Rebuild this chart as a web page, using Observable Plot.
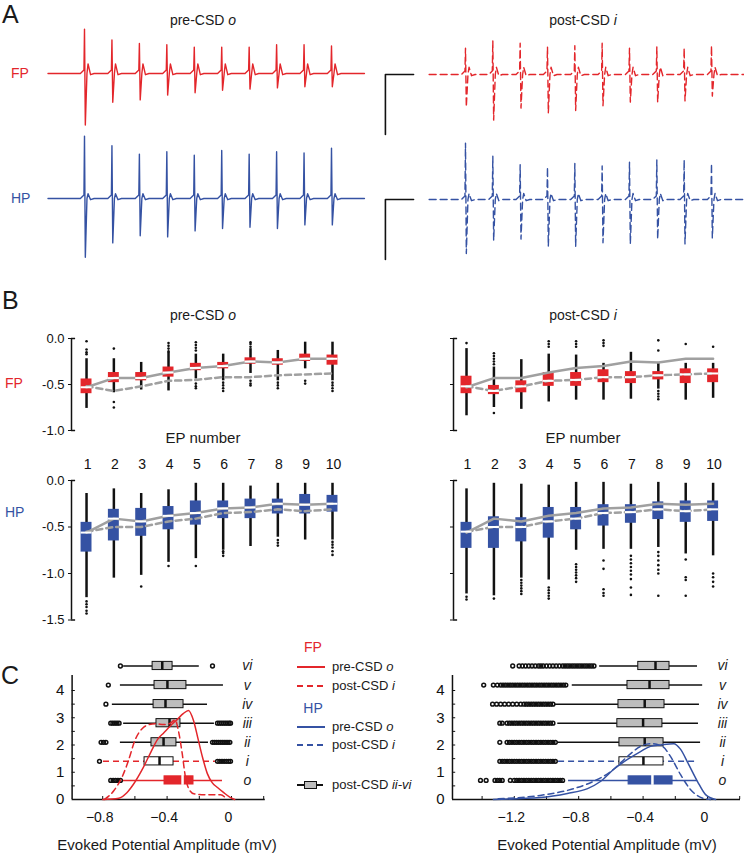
<!DOCTYPE html>
<html><head><meta charset="utf-8">
<script src="https://cdn.jsdelivr.net/npm/d3@7"></script>
<script src="https://cdn.jsdelivr.net/npm/@observablehq/plot@0.6"></script>
<style>
html,body{margin:0;padding:0;background:#fff;}
#fig{position:relative;width:744px;height:853px;overflow:hidden;font-family:"Liberation Sans",Arial,Helvetica,sans-serif;color:#1a1a1a;}
.t{position:absolute;white-space:nowrap;line-height:1.15;}
.lg{position:absolute;}
</style></head><body><div id="fig"></div>
<script>
const RED = "#e3262b", BLUE = "#3552a3", GRAY = "#a0a0a0", BOXGRAY = "#bdbdbd";

// ---------- Panel A: evoked potential traces (mV), one spike per stimulus ----------
const stimTimes = [1, 2, 3, 4, 5, 6, 7, 8, 9, 10];
const preFpUp   = [0.37, 0.28, 0.25, 0.24, 0.22, 0.22, 0.22, 0.24, 0.24, 0.23];
const preFpDown = [-0.43, -0.24, -0.22, -0.18, -0.16, -0.14, -0.13, -0.12, -0.11, -0.11];
const preHpUp   = [0.52, 0.44, 0.37, 0.39, 0.36, 0.40, 0.37, 0.39, 0.38, 0.42];
const preHpDown = [-0.49, -0.37, -0.31, -0.32, -0.27, -0.25, -0.24, -0.25, -0.22, -0.22];
const postFpUp   = [0.22, 0.28, 0.26, 0.23, 0.24, 0.26, 0.22, 0.23, 0.22, 0.24];
const postFpDown = [-0.27, -0.38, -0.28, -0.32, -0.30, -0.26, -0.23, -0.23, -0.22, -0.18];
const postHpUp   = [0.47, 0.36, 0.29, 0.27, 0.30, 0.28, 0.31, 0.33, 0.33, 0.30];
const postHpDown = [-0.45, -0.34, -0.33, -0.39, -0.39, -0.36, -0.37, -0.33, -0.37, -0.32];
const afterBump = [0.08, 0.04, 0.06, 0.05]; // preFP, preHP, postFP, postHP
const spikeShape = [[-0.15, 0], [-0.02, 0.03], [0, "up"], [0.03, "down"], [0.09, 0], [0.13, "bump"], [0.22, -0.01], [0.35, 0]];
const scaleBarT = [-0.9, -1.93, -1.93];
const scaleBarV = [0, 0, -0.5];

// ---------- Panel B: EP amplitude box plots per EP number ----------
const epNumbers = [1, 2, 3, 4, 5, 6, 7, 8, 9, 10];
const fpYTicks = [0, -0.5, -1.0];
const hpYTicks = [0, -0.5, -1.0, -1.5];
const preFpMed  = [-0.53, -0.43, -0.43, -0.37, -0.32, -0.30, -0.25, -0.26, -0.22, -0.22];
const postFpMed = [-0.52, -0.57, -0.52, -0.46, -0.45, -0.42, -0.42, -0.40, -0.39, -0.38];
const preHpMed  = [-0.56, -0.41, -0.44, -0.38, -0.35, -0.30, -0.29, -0.25, -0.26, -0.25];
const postHpMed = [-0.55, -0.50, -0.50, -0.44, -0.41, -0.35, -0.34, -0.31, -0.33, -0.31];

const bFpPreQ1 = [-0.60, -0.48, -0.46, -0.42, -0.35, -0.33, -0.28, -0.29, -0.25, -0.29];
const bFpPreQ3 = [-0.44, -0.37, -0.37, -0.31, -0.27, -0.26, -0.21, -0.22, -0.17, -0.18];
const bFpPreLo = [-0.76, -0.59, -0.56, -0.57, -0.44, -0.46, -0.38, -0.46, -0.33, -0.46];
const bFpPreHi = [-0.22, -0.22, -0.26, -0.15, -0.17, -0.17, -0.11, -0.13, -0.04, -0.04];
const bFpPreOut = [[1,-0.03],[1,-0.12],[1,-0.15],[1,-0.17],[2,-0.11],[2,-0.69],[2,-0.75],[4,-0.05],[4,-0.08],[4,-0.11],[4,-0.14],[5,-0.04],[5,-0.07],[5,-0.10],[5,-0.13],[5,-0.49],[5,-0.52],[5,-0.54],[6,-0.48],[6,-0.51],[6,-0.54],[6,-0.57],[7,-0.04],[7,-0.06],[7,-0.09],[7,-0.46],[7,-0.49],[7,-0.51],[8,-0.48],[8,-0.51],[8,-0.54],[9,-0.46],[9,-0.49],[10,-0.48],[10,-0.51],[10,-0.54],[10,-0.57]];

const bFpPostQ1 = [-0.60, -0.61, -0.59, -0.52, -0.52, -0.48, -0.49, -0.45, -0.49, -0.48];
const bFpPostQ3 = [-0.41, -0.51, -0.46, -0.37, -0.37, -0.34, -0.36, -0.36, -0.33, -0.33];
const bFpPostLo = [-0.84, -0.75, -0.77, -0.69, -0.67, -0.67, -0.66, -0.55, -0.67, -0.65];
const bFpPostHi = [-0.11, -0.31, -0.23, -0.17, -0.18, -0.27, -0.15, -0.26, -0.27, -0.27];
const bFpPostOut = [[1,-0.05],[2,-0.16],[2,-0.19],[2,-0.22],[2,-0.25],[2,-0.28],[2,-0.81],[4,-0.03],[4,-0.06],[4,-0.09],[5,-0.03],[5,-0.06],[5,-0.09],[6,-0.02],[6,-0.05],[6,-0.08],[8,-0.02],[8,-0.13],[8,-0.57],[8,-0.60],[8,-0.63],[8,-0.66],[9,-0.06],[10,-0.09]];

const bHpPreQ1 = [-0.77, -0.65, -0.60, -0.53, -0.48, -0.41, -0.41, -0.36, -0.36, -0.34];
const bHpPreQ3 = [-0.45, -0.31, -0.30, -0.28, -0.22, -0.22, -0.20, -0.20, -0.15, -0.16];
const bHpPreLo = [-1.26, -1.05, -1.02, -0.88, -0.84, -0.75, -0.71, -0.61, -0.64, -0.64];
const bHpPreHi = [-0.14, -0.09, -0.14, -0.10, -0.03, -0.03, -0.06, -0.03, -0.03, -0.03];
const bHpPreOut = [[1,-1.30],[1,-1.33],[1,-1.36],[1,-1.40],[1,-1.43],[3,-1.14],[4,-0.92],[5,-0.92],[6,-0.76],[6,-0.78],[6,-0.81],[8,-0.64],[8,-0.67],[8,-0.70],[10,-0.66],[10,-0.69],[10,-0.72],[10,-0.76],[10,-0.80]];

const bHpPostQ1 = [-0.73, -0.73, -0.66, -0.62, -0.53, -0.49, -0.46, -0.42, -0.45, -0.44];
const bHpPostQ3 = [-0.45, -0.39, -0.40, -0.29, -0.29, -0.26, -0.26, -0.23, -0.22, -0.22];
const bHpPostLo = [-1.22, -1.24, -1.05, -1.07, -0.75, -0.74, -0.74, -0.72, -0.79, -0.81];
const bHpPostHi = [-0.09, -0.03, -0.04, -0.05, -0.02, -0.02, -0.04, -0.02, -0.03, -0.03];
const bHpPostOut = [[1,-1.25],[1,-1.28],[2,-1.27],[3,-1.07],[3,-1.10],[3,-1.13],[3,-1.16],[3,-1.19],[3,-1.22],[4,-1.15],[4,-1.18],[4,-1.21],[4,-1.24],[4,-1.27],[5,-0.90],[5,-0.93],[5,-0.96],[5,-0.99],[5,-1.02],[5,-1.05],[5,-1.09],[6,-0.86],[6,-0.95],[6,-1.17],[6,-1.21],[6,-1.24],[7,-0.81],[7,-0.85],[7,-0.89],[7,-0.93],[7,-0.97],[7,-1.01],[7,-1.06],[7,-1.15],[7,-1.23],[8,-0.77],[8,-0.81],[8,-0.86],[8,-0.91],[8,-0.96],[8,-1.0],[8,-1.24],[9,-0.85],[9,-1.04],[9,-1.07],[9,-1.24],[10,-1.0],[10,-1.04],[10,-1.09],[10,-1.14]];

// ---------- Panel C: amplitude distributions ----------
const cRows = ["o", "i", "ii", "iii", "iv", "v", "vi"];
const cRowLevel = [0.7, 1.4, 2.1, 2.8, 3.5, 4.2, 4.9];
const cYTicks = [0, 1, 2, 3, 4];
const cYMinor = [0.5, 1, 1.5, 2, 2.5, 3, 3.5, 4];
const cFpXTicks = [-0.8, -0.6, -0.4, -0.2, 0, 0.2];
const cFpXLabels = [-0.8, -0.4, 0];
const cHpXTicks = [-1.4, -1.2, -1.0, -0.8, -0.6, -0.4, -0.2, 0, 0.2];
const cHpXLabels = [-1.2, -0.8, -0.4, 0];

const cFpQ1  = [-0.416, -0.540, -0.497, -0.466, -0.484, -0.478, -0.490];
const cFpMed = [-0.304, -0.447, -0.422, -0.385, -0.410, -0.398, -0.430];
const cFpQ3  = [-0.236, -0.360, -0.342, -0.317, -0.298, -0.280, -0.366];
const cFpLo  = [-0.677, -0.795, -0.690, -0.670, -0.740, -0.690, -0.670];
const cFpHi  = [-0.056, -0.100, -0.143, -0.106, -0.149, -0.050, -0.200];
const fpOutO   = [-0.75, -0.735, -0.72, -0.705, -0.69];
const fpOutI   = [-0.82, -0.087, -0.073, -0.059, -0.045, -0.031, -0.017, -0.006];
const fpOutII  = [-0.81, -0.795, -0.78, -0.118, -0.106, -0.094, -0.082, -0.07, -0.058, -0.046, -0.034, -0.022, -0.01];
const fpOutIII = [-0.75, -0.737, -0.724, -0.711, -0.698, -0.087, -0.075, -0.063, -0.051, -0.039, -0.027, -0.015, -0.006];
const fpOutIV  = [-0.78];
const fpOutV   = [-0.765];
const fpOutVI  = [-0.69, -0.118];
const fpPreDx  = [-0.80, -0.70, -0.65, -0.61, -0.55, -0.50, -0.46, -0.42, -0.38, -0.335, -0.30, -0.267, -0.236, -0.21, -0.18, -0.15, -0.12, -0.087, -0.05, -0.006, 0.02];
const fpPreDy  = [0, 0.05, 0.25, 0.55, 1.15, 1.75, 2.2, 2.45, 2.7, 2.95, 3.15, 3.27, 2.9, 2.28, 1.55, 0.95, 0.62, 0.44, 0.26, 0.07, 0];
const fpPostDx = [-0.79, -0.73, -0.68, -0.64, -0.60, -0.555, -0.51, -0.47, -0.42, -0.38, -0.35, -0.33, -0.306, -0.286, -0.265, -0.234, -0.15, -0.068, -0.027];
const fpPostDy = [0, 0.33, 0.82, 1.43, 2.17, 2.6, 2.75, 2.78, 2.75, 2.8, 2.92, 2.53, 1.68, 0.82, 0.39, 0.21, 0.17, 0.17, 0];

const cHpQ1  = [-0.490, -0.547, -0.547, -0.560, -0.553, -0.497, -0.430];
const cHpMed = [-0.342, -0.398, -0.390, -0.400, -0.390, -0.360, -0.323];
const cHpQ3  = [-0.217, -0.273, -0.273, -0.280, -0.267, -0.236, -0.236];
const cHpLo  = [-0.863, -0.925, -0.930, -0.930, -0.944, -0.840, -0.670];
const cHpHi  = [-0.062, -0.056, -0.043, -0.056, -0.050, -0.030, -0.062];
const hpOutO   = [-1.41, -1.375, -1.32, -1.305, -1.29, -1.275, -1.225, -1.2, -1.185, -1.17, -1.155, -1.14, -1.125, -1.11, -1.095, -1.08, -1.065, -1.05, -1.035, -1.02, -1.005, -0.99, -0.975, -0.96, -0.945, -0.93, -0.915, -0.9];
const hpOutI   = [-1.29, -1.275, -1.26, -1.245, -1.23, -1.215, -1.2, -1.185, -1.17, -1.155, -1.14, -1.125, -1.11, -1.095, -1.08, -1.065, -1.05, -1.035, -1.02, -1.005, -0.99, -0.975, -0.96, -0.945];
const hpOutII  = [-1.29, -1.245, -1.23, -1.215, -1.2, -1.185, -1.17, -1.155, -1.14, -1.125, -1.11, -1.095, -1.08, -1.065, -1.05, -1.035, -1.02, -1.005, -0.99, -0.975, -0.96, -0.945];
const hpOutIII = [-1.29, -1.275, -1.245, -1.23, -1.215, -1.2, -1.185, -1.17, -1.155, -1.14, -1.125, -1.11, -1.095, -1.08, -1.065, -1.05, -1.035, -1.02, -1.005, -0.99, -0.975, -0.96];
const hpOutIV  = [-1.335, -1.31, -1.285, -1.26, -1.235, -1.21, -1.185, -1.16, -1.14, -1.125, -1.11, -1.095, -1.08, -1.065, -1.05, -1.035, -1.02, -1.005, -0.99, -0.975, -0.96];
const hpOutV   = [-1.39, -1.33, -1.305, -1.285, -1.27, -1.255, -1.24, -1.225, -1.21, -1.195, -1.18, -1.165, -1.15, -1.135, -1.12, -1.105, -1.09, -1.075, -1.06, -1.045, -1.03, -1.015, -1.0, -0.985, -0.97, -0.955, -0.94, -0.925, -0.91, -0.895, -0.88];
const hpOutVI  = [-1.21, -1.17, -1.15, -1.13, -1.11, -1.09, -1.07, -1.05, -1.035, -1.02, -1.0, -0.98, -0.96, -0.94, -0.92, -0.9, -0.885, -0.87, -0.855, -0.84, -0.825, -0.81, -0.795, -0.78, -0.765, -0.75, -0.735, -0.72, -0.705];
const hpPreDx  = [-1.33, -1.04, -0.87, -0.745, -0.665, -0.584, -0.497, -0.416, -0.354, -0.292, -0.21, -0.168, -0.118, -0.062, -0.012, 0.05];
const hpPreDy  = [0, 0.07, 0.22, 0.4, 0.66, 1.1, 1.47, 1.76, 1.95, 2.0, 2.05, 1.85, 1.3, 0.66, 0.18, 0];
const hpPostDx = [-1.30, -1.04, -0.83, -0.71, -0.60, -0.497, -0.416, -0.354, -0.28, -0.23, -0.168, -0.106, -0.025, 0.02];
const hpPostDy = [0.03, 0.15, 0.4, 0.66, 1.03, 1.58, 1.95, 2.05, 1.95, 1.58, 0.92, 0.37, 0.04, 0];

// ================= drawing =================
const fig = document.getElementById("fig");
const FONT = '"Liberation Sans", Arial, Helvetica, sans-serif';

function place(left, top, width, height, x, y, marks) {
  const svg = Plot.plot({
    width, height, marginTop: 0, marginRight: 0, marginBottom: 0, marginLeft: 0,
    x: {...x, range: x.range.map(v => v - left), axis: null},
    y: {...y, range: y.range.map(v => v - top), axis: null},
    style: {background: "transparent", fontFamily: FONT, fontSize: "13px", overflow: "visible", color: "#111"},
    marks: marks.filter(Boolean)
  });
  Object.assign(svg.style, {position: "absolute", left: left + "px", top: top + "px", maxWidth: "none"});
  fig.appendChild(svg);
}

function label(html, x, y, {size = 14, color = "#1a1a1a", anchor = "middle"} = {}) {
  const d = document.createElement("div");
  d.className = "t";
  d.innerHTML = html;
  const tx = anchor === "middle" ? "-50%" : anchor === "end" ? "-100%" : "0";
  Object.assign(d.style, {left: x + "px", top: y + "px", fontSize: size + "px", color, transform: `translate(${tx},-50%)`});
  fig.appendChild(d);
}

// ---- Panel A ----
function tracePts(up, down, bump) {
  const pts = [{t: -0.33, v: 0}];
  stimTimes.forEach((t, i) => {
    spikeShape.forEach(([dt, k]) => pts.push({t: t + dt, v: k === "up" ? up[i] : k === "down" ? down[i] : k === "bump" ? bump : k}));
  });
  pts.push({t: 11.2, v: 0});
  return pts;
}
function tracePanel(left, top, width, height, xr, base, up, down, bump, color, dashed, bar) {
  place(left, top, width, height,
    {domain: [1, 10], range: xr},
    {domain: [0, -0.5], range: [base, base + 60]},
    [
      dashed
        ? Plot.line(tracePts(up, down, bump), {x: "t", y: "v", stroke: color, strokeWidth: 1.4, strokeDasharray: "7,4"})
        : Plot.line(tracePts(up, down, bump), {x: "t", y: "v", stroke: color, strokeWidth: 1.4}),
      bar && Plot.line(scaleBarT.map((t, i) => ({t, v: scaleBarV[i]})), {x: "t", y: "v", stroke: "#111", strokeWidth: 1.6})
    ]);
}
tracePanel(40, 15, 335, 125, [84, 331], 73, preFpUp, preFpDown, afterBump[0], RED, false, false);
tracePanel(40, 132, 335, 133, [84, 331], 198, preHpUp, preHpDown, afterBump[1], BLUE, false, false);
tracePanel(378, 15, 366, 125, [465, 711], 74, postFpUp, postFpDown, afterBump[2], RED, true, true);
tracePanel(378, 132, 366, 133, [465, 711], 199, postHpUp, postHpDown, afterBump[3], BLUE, true, true);

// ---- Panel B ----
function boxPanel({left, top, width, height, x0, xr, yDomain, yRange, ticks, showLabels, showEp, q1, med, q3, lo, hi, out, color, preLine, postLine}) {
  const boxes = epNumbers.map((ep, i) => ({ep, q1: q1[i], med: med[i], q3: q3[i], lo: lo[i], hi: hi[i]}));
  const yTop = ticks[0], yBot = ticks[ticks.length - 1];
  place(left, top, width, height,
    {domain: [x0, 10], range: xr},
    {domain: yDomain, range: yRange},
    [
      Plot.ruleX([x0], {y1: yTop, y2: yBot, stroke: "#111", strokeWidth: 1.5}),
      Plot.ruleY([yTop, yBot], {x1: x0, x2: x0 + 0.15, stroke: "#111", strokeWidth: 1.5}),
      Plot.ruleY(ticks, {x1: x0 - 0.11, x2: x0, stroke: "#111", strokeWidth: 1}),
      showLabels && Plot.text(ticks, {x: x0, y: d => d, dx: -7, textAnchor: "end", text: d => d.toFixed(1), fontSize: 13, fill: "#111"}),
      showEp && Plot.text(epNumbers, {x: d => d, frameAnchor: "top", dy: 11, dx: 1, text: d => String(d), fontSize: 14, fill: "#111"}),
      Plot.ruleX(boxes, {x: "ep", y1: "lo", y2: "hi", stroke: "#111", strokeWidth: 2.5}),
      Plot.rect(boxes, {x1: d => d.ep - 0.2, x2: d => d.ep + 0.2, y1: "q1", y2: "q3", fill: color}),
      Plot.dot(out, {x: d => d[0], y: d => d[1], r: 1.3, fill: "#111"}),
      Plot.line(epNumbers.map((ep, i) => ({ep, v: preLine[i]})), {x: "ep", y: "v", stroke: GRAY, strokeWidth: 2.5}),
      Plot.line(epNumbers.map((ep, i) => ({ep, v: postLine[i]})), {x: "ep", y: "v", stroke: GRAY, strokeWidth: 2.5, strokeDasharray: "6,4"}),
      Plot.ruleY(boxes, {y: "med", x1: d => d.ep - 0.2, x2: d => d.ep + 0.2, stroke: "white", strokeWidth: 2})
    ]);
}
const xrPre = [71, 71 + 9.55 * 27.33];
const xrPost = [453, 453 + 9.475 * 27.4];
boxPanel({left: 0, top: 328, width: 372, height: 108, x0: 0.45, xr: xrPre, yDomain: [0, -1], yRange: [338, 430], ticks: fpYTicks, showLabels: true, showEp: false,
  q1: bFpPreQ1, med: preFpMed, q3: bFpPreQ3, lo: bFpPreLo, hi: bFpPreHi, out: bFpPreOut, color: RED, preLine: preFpMed, postLine: postFpMed});
boxPanel({left: 376, top: 328, width: 368, height: 108, x0: 0.525, xr: xrPost, yDomain: [0, -1], yRange: [338, 430], ticks: fpYTicks, showLabels: false, showEp: false,
  q1: bFpPostQ1, med: postFpMed, q3: bFpPostQ3, lo: bFpPostLo, hi: bFpPostHi, out: bFpPostOut, color: RED, preLine: preFpMed, postLine: postFpMed});
boxPanel({left: 0, top: 448, width: 372, height: 180, x0: 0.45, xr: xrPre, yDomain: [0, -1.5], yRange: [480, 619.5], ticks: hpYTicks, showLabels: true, showEp: true,
  q1: bHpPreQ1, med: preHpMed, q3: bHpPreQ3, lo: bHpPreLo, hi: bHpPreHi, out: bHpPreOut, color: BLUE, preLine: preHpMed, postLine: postHpMed});
boxPanel({left: 376, top: 448, width: 368, height: 180, x0: 0.525, xr: xrPost, yDomain: [0, -1.5], yRange: [480, 619.5], ticks: hpYTicks, showLabels: false, showEp: true,
  q1: bHpPostQ1, med: postHpMed, q3: bHpPostQ3, lo: bHpPostLo, hi: bHpPostHi, out: bHpPostOut, color: BLUE, preLine: preHpMed, postLine: postHpMed});

// ---- Panel C ----
function distPanel({left, top, width, height, zeroPx, xMin, xMax, xTicks, xLabels, q1, med, q3, lo, hi, outs, preDx, preDy, postDx, postDy, color}) {
  const rows = cRows.map((name, i) => ({name, i, pos: cRowLevel[i], q1: q1[i], med: med[i], q3: q3[i], lo: lo[i], hi: hi[i]}));
  const rowO = rows.filter(d => d.i === 0), rowI = rows.filter(d => d.i === 1), rowsRest = rows.filter(d => d.i > 1);
  const outliers = outs.flatMap((arr, i) => arr.map(v => ({v, pos: cRowLevel[i]})));
  const h = 0.15;
  const fmt = d => d === 0 ? "0" : "\u2212" + Math.abs(d).toFixed(1);
  const boxY = {y1: d => d.pos - h, y2: d => d.pos + h};
  place(left, top, width, height,
    {domain: [-1, 0], range: [zeroPx - 161, zeroPx]},
    {domain: [0, 4], range: [799, 690]},
    [
      Plot.ruleX([xMin], {y1: 0, y2: 4.55, stroke: "#111", strokeWidth: 1.5}),
      Plot.ruleY([0], {x1: xMin, x2: xMax, stroke: "#111", strokeWidth: 1.5}),
      Plot.ruleY(cYMinor, {x1: xMin, x2: xMin + 0.02, stroke: "#111", strokeWidth: 1}),
      Plot.ruleX(xTicks, {y1: 0, y2: 0.11, stroke: "#111", strokeWidth: 1}),
      Plot.text(cYTicks, {x: xMin, y: d => d, dx: -12, text: d => String(d), fontSize: 15, fill: "#111"}),
      Plot.text(xLabels, {x: d => d, y: 0, dy: 18, dx: -3, text: fmt, fontSize: 14, fill: "#111"}),
      // whiskers
      Plot.ruleY(rowsRest, {y: "pos", x1: "lo", x2: "hi", stroke: "#111", strokeWidth: 1.5}),
      Plot.ruleY(rowO, {y: "pos", x1: "lo", x2: "hi", stroke: color, strokeWidth: 1.5}),
      Plot.ruleY(rowI, {y: "pos", x1: "lo", x2: "hi", stroke: color, strokeWidth: 1.5, strokeDasharray: "6,4"}),
      // outliers
      Plot.dot(outliers, {x: "v", y: "pos", r: 1.9, stroke: "#111", strokeWidth: 1.5, fill: "none"}),
      // boxes
      Plot.rect(rowsRest, {x1: "q1", x2: "q3", ...boxY, fill: BOXGRAY, stroke: "#111", strokeWidth: 1}),
      Plot.rect(rowI, {x1: "q1", x2: "q3", ...boxY, fill: "white", stroke: "#111", strokeWidth: 1}),
      Plot.rect(rowO, {x1: "q1", x2: "q3", ...boxY, fill: color, stroke: color, strokeWidth: 1}),
      Plot.ruleX(rowsRest.concat(rowI), {x: "med", ...boxY, stroke: "#111", strokeWidth: 2.5}),
      Plot.ruleX(rowO, {x: "med", y1: d => d.pos - h - 0.03, y2: d => d.pos + h + 0.03, stroke: "white", strokeWidth: 2.5}),
      // densities
      Plot.line(preDx.map((x, i) => ({x, y: preDy[i]})), {x: "x", y: "y", stroke: color, strokeWidth: 1.5, curve: "monotone-x"}),
      Plot.line(postDx.map((x, i) => ({x, y: postDy[i]})), {x: "x", y: "y", stroke: color, strokeWidth: 1.5, strokeDasharray: "6,4", curve: "monotone-x"}),
      Plot.text(rows, {x: xMax, y: "pos", dx: -18, text: "name", fontSize: 14, fontStyle: "italic", fill: "#222"})
    ]);
}
distPanel({left: 40, top: 650, width: 232, height: 180, zeroPx: 231, xMin: -0.99, xMax: 0.21, xTicks: cFpXTicks, xLabels: cFpXLabels,
  q1: cFpQ1, med: cFpMed, q3: cFpQ3, lo: cFpLo, hi: cFpHi, outs: [fpOutO, fpOutI, fpOutII, fpOutIII, fpOutIV, fpOutV, fpOutVI],
  preDx: fpPreDx, preDy: fpPreDy, postDx: fpPostDx, postDy: fpPostDy, color: RED});
distPanel({left: 428, top: 650, width: 316, height: 180, zeroPx: 707, xMin: -1.584, xMax: 0.205, xTicks: cHpXTicks, xLabels: cHpXLabels,
  q1: cHpQ1, med: cHpMed, q3: cHpQ3, lo: cHpLo, hi: cHpHi, outs: [hpOutO, hpOutI, hpOutII, hpOutIII, hpOutIV, hpOutV, hpOutVI],
  preDx: hpPreDx, preDy: hpPreDy, postDx: hpPostDx, postDy: hpPostDy, color: BLUE});

// ---- text ----
label("A", 2, 14, {size: 25, anchor: "start"});
label("B", 2, 300, {size: 25, anchor: "start"});
label("C", 1, 675, {size: 25, anchor: "start"});
label("pre-CSD <i>o</i>", 203, 20);
label("post-CSD <i>i</i>", 583, 20);
label("FP", 11, 73, {color: RED, anchor: "start"});
label("HP", 11, 198, {color: BLUE, anchor: "start"});
label("pre-CSD <i>o</i>", 203, 315);
label("post-CSD <i>i</i>", 583, 315);
label("FP", 5, 383, {color: RED, anchor: "start"});
label("HP", 5, 512, {color: BLUE, anchor: "start"});
label("EP number", 203, 438, {size: 15});
label("EP number", 583, 438, {size: 15});
label("Evoked Potential Amplitude (mV)", 167, 845, {size: 15});
label("Evoked Potential Amplitude (mV)", 607, 845, {size: 15});

// ---- legend ----
label("FP", 313, 647, {color: RED, size: 14});
label("HP", 313, 708, {color: BLUE, size: 14});
const legendItems = [["pre-CSD <i>o</i>", 667, RED, false], ["post-CSD <i>i</i>", 686, RED, true], ["pre-CSD <i>o</i>", 727, BLUE, false], ["post-CSD <i>i</i>", 745, BLUE, true]];
legendItems.forEach(([txt, y, c, dash]) => {
  const s = document.createElement("div");
  s.className = "lg";
  Object.assign(s.style, {left: "297px", top: (y - 1) + "px", width: "28px", height: "2px",
    background: dash ? `repeating-linear-gradient(to right, ${c} 0 6px, transparent 6px 10px)` : c});
  fig.appendChild(s);
  label(txt, 332, y, {size: 13, anchor: "start"});
});
{
  const ln = document.createElement("div"); ln.className = "lg";
  Object.assign(ln.style, {left: "297px", top: "784px", width: "26px", height: "1.5px", background: "#111"});
  fig.appendChild(ln);
  const bx = document.createElement("div"); bx.className = "lg";
  Object.assign(bx.style, {left: "304px", top: "781px", width: "11px", height: "6px", background: BOXGRAY, border: "1px solid #111"});
  fig.appendChild(bx);
  label("post-CSD <i>ii-vi</i>", 332, 785, {size: 13, anchor: "start"});
}
</script></body></html>
